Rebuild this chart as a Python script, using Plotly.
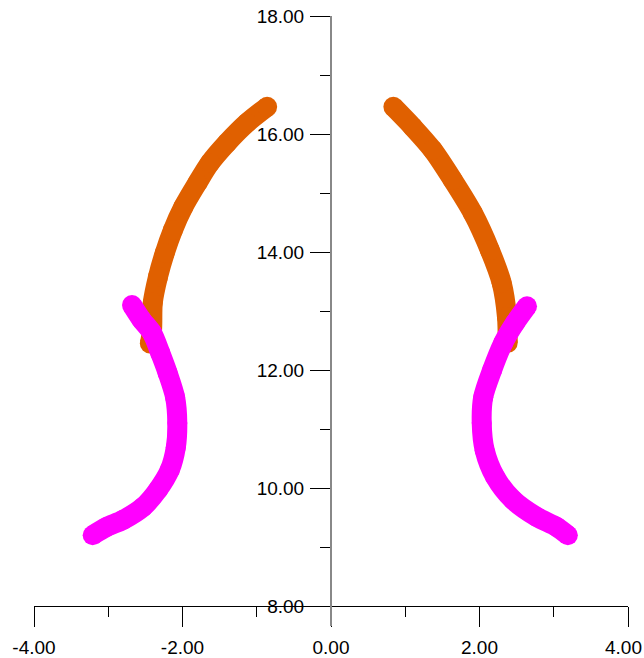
import plotly.graph_objects as go

# Data
orange_left_x = [-0.86, -1.13, -1.40, -1.63, -1.80, -1.99, -2.13, -2.24, -2.33, -2.40, -2.41, -2.44]
orange_left_y = [16.46, 16.19, 15.85, 15.51, 15.17, 14.76, 14.37, 13.98, 13.58, 13.14, 12.68, 12.45]

orange_right_x = [0.84, 1.10, 1.37, 1.64, 1.91, 2.14, 2.30, 2.37, 2.38]
orange_right_y = [16.46, 16.12, 15.73, 15.22, 14.66, 14.03, 13.47, 12.90, 12.46]

magenta_left_x = [-2.68, -2.55, -2.41, -2.30, -2.20, -2.10, -2.07, -2.09, -2.17, -2.33, -2.53, -2.80, -3.02, -3.21]
magenta_left_y = [13.10, 12.85, 12.63, 12.29, 11.95, 11.54, 11.10, 10.69, 10.31, 9.97, 9.68, 9.46, 9.34, 9.20]

magenta_right_x = [2.64, 2.48, 2.32, 2.17, 2.05, 2.03, 2.07, 2.21, 2.45, 2.77, 3.04, 3.19]
magenta_right_y = [13.08, 12.80, 12.46, 12.00, 11.54, 11.10, 10.64, 10.19, 9.80, 9.51, 9.34, 9.20]

x_tick_vals = [-4, -2, 0, 2, 4]
x_tick_text = ["-4.00", "-2.00", "0.00", "2.00", "4.00"]
y_tick_vals = [8, 10, 12, 14, 16, 18]
y_tick_text = ["8.00", "10.00", "12.00", "14.00", "16.00", "18.00"]

ORANGE = "#E06000"
MAGENTA = "#FF00FF"
MSIZE = 20

fig = go.Figure()
for xs, ys, col in [
    (orange_left_x, orange_left_y, ORANGE),
    (orange_right_x, orange_right_y, ORANGE),
    (magenta_left_x, magenta_left_y, MAGENTA),
    (magenta_right_x, magenta_right_y, MAGENTA),
]:
    fig.add_trace(go.Scatter(
        x=xs, y=ys, mode="lines+markers",
        line=dict(color=col, width=MSIZE, shape="spline", smoothing=0.8),
        marker=dict(color=col, size=MSIZE, line=dict(width=0)),
        hoverinfo="skip", showlegend=False, cliponaxis=False,
    ))

font = dict(family="Liberation Sans, Arial, sans-serif", size=19, color="black")

fig.add_shape(type="line", xref="x", yref="paper", x0=0, x1=0, y0=0, y1=-20 / 590,
              line=dict(color="#888888", width=2), layer="above")

# last x tick label kept inside the picture (as in the reference), placed at its tick
axis_tick_text = x_tick_text[:-1] + [""]
fig.add_annotation(
    text=x_tick_text[-1], xref="x", x=x_tick_vals[-1], yref="paper", y=0,
    xanchor="right", xshift=15, yanchor="middle", yshift=-41,
    showarrow=False, font=font, borderpad=0,
)

fig.update_layout(
    width=644, height=658,
    margin=dict(l=34, r=16, t=16, b=52),
    paper_bgcolor="white", plot_bgcolor="white",
    font=font,
    showlegend=False,
    xaxis=dict(
        range=[-4, 4], showgrid=False, zeroline=False, automargin=False,
        showline=True, linecolor="black", linewidth=1,
        ticks="outside", ticklen=20, tickwidth=1, tickcolor="black",
        tickvals=x_tick_vals, ticktext=axis_tick_text,
        ticklabeloverflow="allow", ticklabelstandoff=4,
        minor=dict(dtick=1, tick0=0, ticks="outside", ticklen=10, tickcolor="black", tickwidth=1),
        tickfont=font,
    ),
    yaxis=dict(
        range=[8, 18], showgrid=False, zeroline=False, automargin=False,
        anchor="free", position=0.5,
        showline=True, linecolor="#888888", linewidth=2,
        ticks="outside", ticklen=20, tickwidth=1, tickcolor="black",
        tickvals=y_tick_vals, ticktext=y_tick_text,
        ticklabeloverflow="allow", ticklabelstandoff=2,
        minor=dict(dtick=1, tick0=0, ticks="outside", ticklen=10, tickcolor="black", tickwidth=1),
        tickfont=font,
    ),
)

fig.write_html(
    "out.html",
    config={"displayModeBar": False},
    post_script="document.body.style.margin='0';document.body.style.overflow='hidden';",
)
